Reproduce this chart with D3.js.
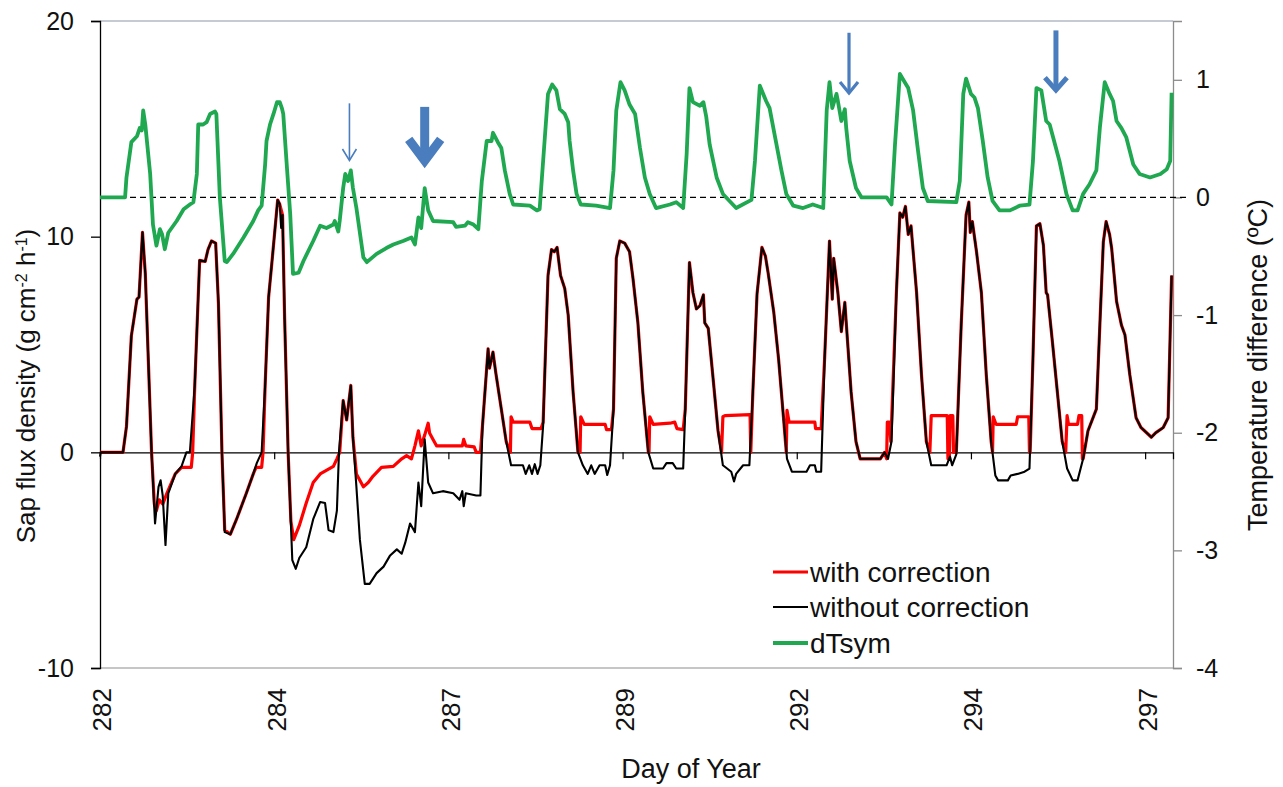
<!DOCTYPE html>
<html>
<head>
<meta charset="utf-8">
<script src="https://cdn.jsdelivr.net/npm/d3@7"></script>
<style>
  body { margin: 0; background: #fff; }
  svg { display: block; }
  text { font-family: "Liberation Sans", Arial, sans-serif; fill: #111; }
</style>
</head>
<body>
<svg id="chart" width="1283" height="787"></svg>
<script>
// Sap flux density, g cm-2 h-1, as [day of year, value]
const withCorrection = [
  [282.00,0],[282.33,0],[282.38,1.2],[282.45,5.4],[282.53,7.1],[282.56,7.2],[282.61,10.2],[282.65,8.3],[282.69,4.6],[282.74,0],
  [282.78,-2.4],[282.81,-2.7],[282.85,-2.2],[282.90,-2.4],[282.96,-1.9],[283.08,-1.0],[283.17,-0.7],[283.31,-0.7],[283.33,0],
  [283.36,3.1],[283.43,8.9],[283.51,8.85],[283.55,9.4],[283.60,9.8],[283.66,9.7],[283.70,6.9],[283.75,0],[283.79,-3.6],[283.87,-3.8],
  [283.96,-3.1],[284.10,-1.9],[284.20,-1.0],[284.24,-0.7],[284.32,-0.7],[284.34,0],
  [284.37,3.1],[284.42,7.2],[284.47,8.9],[284.51,10.3],[284.55,11.7],[284.58,11.5],[284.62,11.0],[284.65,6.2],[284.70,0],
  [284.74,-3.2],[284.78,-4.05],[284.86,-3.4],[284.96,-2.35],[285.06,-1.4],[285.16,-1.0],[285.35,-0.65],[285.40,-0.3],[285.44,0],
  [285.49,2.4],[285.54,1.5],[285.60,3.1],[285.63,0.7],[285.68,-1.0],[285.78,-1.6],[285.85,-1.4],[285.92,-1.1],[286.04,-0.7],
  [286.21,-0.65],[286.33,-0.3],[286.40,-0.15],[286.47,-0.3],[286.52,0.3],[286.57,1.0],[286.61,0.3],[286.66,0.8],[286.71,1.35],
  [286.73,0.9],[286.78,0.6],[286.83,0.3],[287.20,0.3],[287.22,0.6],[287.25,0.3],[287.37,0.25],[287.40,0],[287.46,0],
  [287.49,1.25],[287.57,4.8],[287.59,3.9],[287.64,4.65],[287.68,3.7],[287.76,2.0],[287.83,0.5],[287.89,0],[287.90,1.65],
  [287.93,1.4],[288.17,1.4],[288.20,1.1],[288.33,1.1],[288.36,1.4],
  [288.43,8.2],[288.48,9.4],[288.52,9.3],[288.56,9.5],[288.61,8.2],[288.67,7.6],[288.72,6.35],[288.79,2.8],[288.86,0],[288.89,0],
  [288.90,1.65],[288.95,1.3],[289.25,1.3],[289.27,1.05],[289.34,1.05],[289.37,2.0],
  [289.41,9.0],[289.46,9.8],[289.53,9.7],[289.60,9.3],[289.65,8.05],[289.72,6.0],[289.79,2.8],[289.87,0],[289.88,0],
  [289.89,1.65],[289.94,1.3],[290.18,1.35],[290.25,1.4],[290.28,1.1],[290.37,1.05],[290.40,2.0],
  [290.46,8.8],[290.51,7.4],[290.56,6.65],[290.61,6.8],[290.66,7.3],[290.68,6.0],[290.73,5.75],[290.80,3.4],[290.87,1.0],[290.92,0],
  [290.94,1.65],[290.97,1.7],[291.33,1.75],[291.34,0],
  [291.37,2.8],[291.43,7.35],[291.50,9.5],[291.55,9.1],[291.59,8.3],[291.67,6.5],[291.74,4.3],[291.81,1.6],[291.85,0],
  [291.86,1.95],[291.89,1.4],[292.26,1.4],[292.27,1.1],[292.35,1.1],
  [292.40,4.35],[292.47,9.8],[292.51,7.1],[292.53,9.0],[292.59,7.4],[292.64,5.6],[292.69,6.95],[292.73,5.1],[292.78,2.8],[292.85,0.5],
  [292.91,-0.3],[293.20,-0.3],[293.26,0],[293.29,-0.3],[293.30,1.4],[293.33,1.4],[293.35,0.5],
  [293.43,7.4],[293.48,11.1],[293.52,10.9],[293.56,11.4],[293.60,10.1],[293.64,10.5],[293.72,7.4],[293.79,3.6],[293.86,0.5],[293.91,0],
  [293.93,1.7],[294.16,1.7],[294.17,-0.3],[294.19,-0.3],[294.20,1.7],[294.24,1.7],[294.25,0],[294.29,0],
  [294.36,5.9],[294.43,11.0],[294.47,11.6],[294.49,10.2],[294.52,10.7],[294.58,9.3],[294.65,7.4],[294.72,3.6],[294.79,0.5],[294.81,0],
  [294.82,1.65],[294.86,1.3],[295.15,1.3],[295.17,1.65],[295.33,1.65],[295.34,0],[295.35,0],
  [295.39,4.35],[295.44,10.5],[295.49,10.6],[295.54,9.6],[295.58,7.4],[295.60,7.3],[295.67,5.1],[295.74,2.8],[295.81,0.5],[295.86,0],
  [295.88,1.7],[295.90,1.3],[296.03,1.3],[296.05,1.7],[296.09,1.7],[296.10,-0.3],[296.11,-0.3],
  [296.18,1.0],[296.30,2.0],[296.35,5.9],[296.40,9.75],[296.44,10.7],[296.49,10.1],[296.52,9.45],[296.59,7.0],[296.66,5.9],
  [296.71,5.45],[296.78,3.6],[296.87,1.6],[296.94,1.15],[297.04,0.85],[297.09,0.7],[297.15,0.9],[297.26,1.15],[297.33,1.6],[297.38,8.2]
];

const withoutCorrection = [
  [282.00,-0.2],[282.01,0],[282.33,0],[282.38,1.2],[282.45,5.4],[282.53,7.1],[282.56,7.2],[282.61,10.2],[282.65,8.3],[282.69,4.6],[282.74,0],
  [282.79,-3.3],[282.84,-1.6],[282.87,-1.3],[282.90,-2.0],[282.94,-4.3],[282.98,-1.9],[283.08,-1.0],[283.17,-0.65],[283.24,0],[283.29,0],
  [283.36,3.1],[283.43,8.9],[283.51,8.85],[283.55,9.4],[283.60,9.8],[283.66,9.7],[283.70,6.9],[283.75,0],[283.79,-3.7],[283.87,-3.8],
  [283.96,-3.1],[284.10,-1.9],[284.20,-1.0],[284.25,-0.5],[284.32,0],
  [284.37,3.1],[284.42,7.2],[284.47,8.9],[284.51,10.3],[284.55,11.7],[284.58,11.5],[284.60,10.4],[284.62,11.0],[284.65,6.2],[284.70,0],
  [284.76,-5.0],[284.81,-5.4],[284.86,-4.9],[284.96,-4.4],[285.06,-3.1],[285.16,-2.3],[285.23,-2.35],[285.28,-3.6],[285.35,-3.7],
  [285.40,-2.7],[285.43,0],[285.49,2.4],[285.54,1.5],[285.60,3.1],[285.63,0.7],[285.68,-1.6],[285.73,-4.05],[285.80,-6.1],[285.87,-6.1],
  [285.97,-5.6],[286.07,-5.3],[286.16,-4.8],[286.26,-4.5],[286.33,-4.7],[286.38,-4.2],[286.45,-3.3],[286.52,-3.7],[286.57,-1.4],
  [286.61,-2.5],[286.66,0.6],[286.71,-1.4],[286.78,-1.9],[286.92,-1.8],[287.07,-1.9],[287.16,-2.2],[287.20,-1.8],[287.22,-2.5],
  [287.25,-1.9],[287.40,-2.0],[287.46,-2.0],
  [287.49,1.25],[287.57,4.8],[287.59,3.9],[287.64,4.65],[287.68,3.7],[287.76,2.0],[287.83,0.5],[287.90,-0.6],[288.07,-0.6],
  [288.11,-1.0],[288.16,-0.6],[288.20,-1.0],[288.24,-0.55],[288.28,-1.0],[288.32,-0.6],[288.36,1.25],
  [288.43,8.2],[288.48,9.4],[288.52,9.3],[288.56,9.5],[288.61,8.2],[288.67,7.6],[288.72,6.35],[288.79,2.8],[288.86,0],
  [288.93,-0.6],[289.00,-1.0],[289.05,-0.6],[289.10,-1.0],[289.17,-0.6],[289.25,-0.6],[289.28,-1.05],[289.32,-0.6],[289.37,2.0],
  [289.41,9.0],[289.46,9.8],[289.53,9.7],[289.60,9.3],[289.65,8.05],[289.72,6.0],[289.79,2.8],[289.87,0],
  [289.94,-0.75],[290.08,-0.75],[290.13,-0.5],[290.22,-0.5],[290.27,-0.75],[290.37,-0.75],[290.40,2.0],
  [290.46,8.8],[290.51,7.4],[290.56,6.65],[290.61,6.8],[290.66,7.3],[290.68,6.0],[290.73,5.75],[290.80,3.4],[290.87,1.0],
  [290.94,-0.6],[291.06,-0.9],[291.10,-1.35],[291.13,-1.0],[291.23,-0.6],[291.32,-0.6],
  [291.37,2.8],[291.43,7.35],[291.50,9.5],[291.55,9.1],[291.59,8.3],[291.67,6.5],[291.74,4.3],[291.81,1.6],[291.86,-0.3],
  [291.93,-0.9],[292.14,-0.9],[292.19,-0.6],[292.26,-0.6],[292.28,-0.9],[292.35,-0.9],
  [292.40,4.35],[292.47,9.8],[292.51,7.1],[292.53,9.0],[292.59,7.4],[292.64,5.6],[292.69,6.95],[292.73,5.1],[292.78,2.8],[292.85,0.5],
  [292.91,-0.3],[293.20,-0.3],[293.26,0],[293.31,-0.3],[293.36,0.5],
  [293.43,7.4],[293.48,11.1],[293.52,10.9],[293.56,11.4],[293.60,10.1],[293.64,10.5],[293.72,7.4],[293.79,3.6],[293.86,0.5],
  [293.93,-0.6],[294.15,-0.6],[294.20,-0.2],[294.23,-0.6],[294.29,-0.1],
  [294.36,5.9],[294.43,11.0],[294.47,11.6],[294.49,10.2],[294.52,10.7],[294.58,9.3],[294.65,7.4],[294.72,3.6],[294.79,0.5],
  [294.85,-1.07],[294.89,-1.3],[295.03,-1.3],[295.07,-1.07],[295.17,-1.0],[295.27,-0.9],[295.34,-0.75],
  [295.39,4.35],[295.44,10.5],[295.49,10.6],[295.54,9.6],[295.58,7.4],[295.60,7.3],[295.67,5.1],[295.74,2.8],[295.81,0.5],
  [295.88,-0.75],[295.96,-1.3],[296.03,-1.3],[296.11,-0.3],
  [296.18,1.0],[296.30,2.0],[296.35,5.9],[296.40,9.75],[296.44,10.7],[296.49,10.1],[296.52,9.45],[296.59,7.0],[296.66,5.9],
  [296.71,5.45],[296.78,3.6],[296.87,1.6],[296.94,1.15],[297.04,0.85],[297.09,0.7],[297.15,0.9],[297.26,1.15],[297.33,1.6],[297.38,8.2]
];

// Symmetric temperature difference dTsym, degrees C, as [day of year, value]
const dTsym = [
  [282.00,0.00],[282.36,0.00],[282.38,0.17],[282.45,0.47],[282.53,0.52],[282.57,0.59],[282.60,0.57],[282.62,0.74],[282.65,0.62],
  [282.72,0.20],[282.76,-0.23],[282.81,-0.41],[282.86,-0.27],[282.89,-0.31],[282.93,-0.44],[282.98,-0.30],[283.10,-0.20],
  [283.20,-0.10],[283.29,-0.06],[283.34,-0.04],[283.39,0.20],[283.41,0.62],[283.48,0.62],[283.53,0.64],[283.58,0.71],[283.65,0.73],
  [283.67,0.71],[283.72,0.00],[283.79,-0.54],[283.82,-0.55],[283.91,-0.48],[284.06,-0.34],[284.20,-0.20],[284.27,-0.11],[284.32,-0.07],
  [284.37,0.28],[284.39,0.48],[284.44,0.62],[284.49,0.71],[284.54,0.81],[284.58,0.81],[284.61,0.76],[284.63,0.71],[284.68,0.28],
  [284.73,-0.14],[284.77,-0.65],[284.85,-0.64],[284.92,-0.54],[285.06,-0.37],[285.16,-0.24],[285.25,-0.26],[285.35,-0.23],
  [285.37,-0.20],[285.42,-0.29],[285.44,-0.20],[285.49,0.08],[285.52,0.20],[285.56,0.14],[285.60,0.23],[285.63,0.08],[285.68,-0.09],
  [285.78,-0.51],[285.83,-0.55],[285.97,-0.48],[286.11,-0.43],[286.21,-0.40],[286.35,-0.37],[286.47,-0.34],[286.52,-0.40],
  [286.57,-0.17],[286.61,-0.26],[286.66,0.08],[286.71,-0.11],[286.78,-0.20],[287.07,-0.21],[287.11,-0.25],[287.24,-0.24],
  [287.28,-0.21],[287.36,-0.23],[287.43,-0.27],[287.48,0.14],[287.55,0.48],[287.62,0.48],[287.64,0.55],[287.71,0.47],[287.76,0.42],
  [287.81,0.23],[287.88,0.03],[287.93,-0.06],[288.17,-0.07],[288.27,-0.11],[288.31,-0.10],[288.36,0.31],[288.43,0.88],[288.49,0.96],
  [288.55,0.91],[288.60,0.75],[288.67,0.71],[288.72,0.64],[288.74,0.48],[288.79,0.23],[288.84,0.03],[288.90,-0.06],[289.12,-0.07],
  [289.32,-0.09],[289.37,0.23],[289.41,0.74],[289.47,0.98],[289.53,0.91],[289.60,0.79],[289.68,0.71],[289.75,0.42],[289.82,0.17],
  [289.89,0.03],[289.98,-0.09],[290.18,-0.06],[290.27,-0.04],[290.37,-0.09],[290.42,0.37],[290.46,0.93],[290.51,0.81],[290.61,0.78],
  [290.66,0.81],[290.70,0.69],[290.75,0.45],[290.85,0.17],[290.94,0.03],[291.13,-0.09],[291.35,-0.02],[291.40,0.31],[291.47,0.95],
  [291.56,0.82],[291.61,0.76],[291.68,0.54],[291.78,0.23],[291.85,0.03],[291.95,-0.07],[292.09,-0.09],[292.23,-0.06],[292.38,-0.09],
  [292.43,0.74],[292.47,0.98],[292.51,0.76],[292.57,0.88],[292.59,0.82],[292.64,0.65],[292.69,0.75],[292.71,0.59],[292.76,0.31],
  [292.85,0.08],[292.93,0.00],[293.29,0.00],[293.36,-0.06],[293.41,0.45],[293.48,1.05],[293.55,0.98],[293.60,0.93],[293.67,0.74],
  [293.74,0.40],[293.81,0.08],[293.88,-0.03],[294.29,-0.04],[294.34,0.14],[294.39,0.88],[294.43,1.01],[294.50,0.88],[294.55,0.85],
  [294.60,0.76],[294.67,0.48],[294.74,0.17],[294.81,-0.03],[294.91,-0.11],[295.06,-0.11],[295.20,-0.07],[295.34,-0.06],[295.39,0.31],
  [295.44,0.93],[295.51,0.91],[295.58,0.65],[295.63,0.62],[295.68,0.51],[295.77,0.31],[295.87,0.03],[295.96,-0.11],[296.03,-0.11],
  [296.11,0.03],[296.20,0.11],[296.30,0.23],[296.35,0.59],[296.42,0.98],[296.49,0.88],[296.54,0.82],[296.59,0.65],[296.66,0.59],
  [296.73,0.51],[296.83,0.28],[296.92,0.20],[297.07,0.17],[297.22,0.20],[297.31,0.24],[297.36,0.31],[297.38,0.89]
];

// Axis ticks and labels
const xTickDays = [282, 284.5, 287, 289.5, 292, 294.5, 297];
const xTickLabels = ["282", "284", "287", "289", "292", "294", "297"];
const leftTicks = [-10, 0, 10, 20];
const rightTicks = [-4, -3, -2, -1, 0, 1];
const seriesNames = ["with correction", "without correction", "dTsym"];

// Arrow annotations pointing at dTsym events: [day, tip dT, tail dT]
const arrowDays  = [285.58, 286.66, 292.75, 295.72];
const arrowTips  = [0.31, 0.29, 0.88, 0.90];
const arrowTails = [0.80, 0.77, 1.40, 1.42];

const svg = d3.select("#chart");
const plot = { left: 100, right: 1173, top: 21, bottom: 668 };

const x = d3.scaleLinear().domain([282, 297.4]).range([plot.left, plot.right]);
const yL = d3.scaleLinear().domain([-10, 20]).range([plot.bottom, plot.top]);
const yR = d3.scaleLinear().domain([-4, 1.5]).range([plot.bottom, plot.top]);

const colors = { red: "#ff0000", black: "#000000", green: "#1fa850", arrow: "#4a7dbd" };
const plainNumber = d => String(d);   // ASCII hyphen for negatives

// Plot frame: top and bottom borders
svg.append("line").attr("x1", plot.left).attr("x2", plot.right).attr("y1", plot.top).attr("y2", plot.top)
  .attr("stroke", "#8e96a6").attr("stroke-width", 1.2);
svg.append("line").attr("x1", plot.left).attr("x2", plot.right).attr("y1", plot.bottom).attr("y2", plot.bottom)
  .attr("stroke", "#8e8e8e").attr("stroke-width", 1.2);

// Left axis
const leftAxis = d3.axisLeft(yL).tickValues(leftTicks).tickSize(9).tickPadding(17).tickFormat(plainNumber);
const gL = svg.append("g").attr("transform", `translate(${plot.left},0)`).call(leftAxis);
gL.select(".domain").attr("stroke", "#000").attr("stroke-width", 1.3);
gL.selectAll(".tick line").attr("stroke", "#000").attr("stroke-width", 1.3);
gL.selectAll(".tick text").attr("font-size", 25).attr("fill", "#111")
  .style("font-family", '"Liberation Sans", Arial, sans-serif');

// Right axis
const rightAxis = d3.axisRight(yR).tickValues(rightTicks).tickSize(9).tickPadding(14).tickFormat(plainNumber);
const gR = svg.append("g").attr("transform", `translate(${plot.right},0)`).call(rightAxis);
gR.select(".domain").attr("stroke", "#8c8c8c").attr("stroke-width", 1.3);
gR.selectAll(".tick line").attr("stroke", "#8c8c8c").attr("stroke-width", 1.3);
gR.selectAll(".tick text").attr("font-size", 25).attr("fill", "#111")
  .style("font-family", '"Liberation Sans", Arial, sans-serif');

// Category axis along zero sap flux
const zeroAxis = d3.axisBottom(x).tickValues(xTickDays.slice(1)).tickSize(7).tickFormat("");
const gX = svg.append("g").attr("transform", `translate(0,${yL(0)})`).call(zeroAxis);
gX.select(".domain").attr("stroke", "#000").attr("stroke-width", 1.2);
gX.selectAll(".tick line").attr("stroke", "#000").attr("stroke-width", 1.2);

// Day labels below the plot, rotated
svg.append("g").selectAll("text").data(xTickDays).join("text")
  .attr("transform", d => `translate(${x(d) + 2},${plot.bottom + 20}) rotate(-90)`)
  .attr("text-anchor", "end").attr("dy", "0.36em").attr("font-size", 26)
  .text((d, i) => xTickLabels[i]);

// dTsym zero reference (dashed)
svg.append("line").attr("x1", plot.left).attr("x2", plot.right + 14).attr("y1", yR(0)).attr("y2", yR(0))
  .attr("stroke", "#000").attr("stroke-width", 1.3).attr("stroke-dasharray", "6,4");

// Series
const lineL = d3.line().x(d => x(d[0])).y(d => yL(d[1]));
const lineR = d3.line().x(d => x(d[0])).y(d => yR(d[1]));

svg.append("path").datum(withCorrection).attr("d", lineL)
  .attr("fill", "none").attr("stroke", colors.red).attr("stroke-width", 3.2).attr("stroke-linejoin", "round");
svg.append("path").datum(withoutCorrection).attr("d", lineL)
  .attr("fill", "none").attr("stroke", colors.black).attr("stroke-width", 2.1).attr("stroke-linejoin", "round");
svg.append("path").datum(dTsym).attr("d", lineR)
  .attr("fill", "none").attr("stroke", colors.green).attr("stroke-width", 3.8).attr("stroke-linejoin", "round");

// Arrows
const arrowStyle = [
  { w: 1.6, hw: 7, hl: 12 },
  { w: 9, hw: 16, hl: 24 },
  { w: 3.2, hw: 9, hl: 12 },
  { w: 5, hw: 11, hl: 14 }
];
const gA = svg.append("g");
arrowDays.forEach((d, i) => {
  const ax = x(d), tip = yR(arrowTips[i]), tail = yR(arrowTails[i]);
  const s = arrowStyle[i];
  gA.append("line").attr("x1", ax).attr("x2", ax).attr("y1", tail).attr("y2", tip - s.w * 0.6)
    .attr("stroke", colors.arrow).attr("stroke-width", s.w);
  gA.append("path")
    .attr("d", `M${ax - s.hw},${tip - s.hl} L${ax},${tip - s.w * 0.3} L${ax + s.hw},${tip - s.hl}`)
    .attr("fill", "none").attr("stroke", colors.arrow).attr("stroke-width", s.w)
    .attr("stroke-linejoin", "miter").attr("stroke-linecap", "butt");
});

// Axis titles
const yTitle = svg.append("text")
  .attr("transform", `translate(26,386) rotate(-90)`).attr("text-anchor", "middle")
  .attr("dy", "0.36em").attr("font-size", 26);
yTitle.append("tspan").text("Sap flux  density (g cm");
yTitle.append("tspan").attr("font-size", 16).attr("baseline-shift", "super").text("-2");
yTitle.append("tspan").text(" h");
yTitle.append("tspan").attr("font-size", 16).attr("baseline-shift", "super").text("-1");
yTitle.append("tspan").text(")");

svg.append("text")
  .attr("transform", `translate(1257,365) rotate(-90)`).attr("text-anchor", "middle")
  .attr("dy", "0.36em").attr("font-size", 27)
  .text("Temperature difference (ºC)");

svg.append("text").attr("x", 691).attr("y", 778).attr("text-anchor", "middle")
  .attr("font-size", 27).text("Day of Year");

// Legend
const legendColors = [colors.red, colors.black, colors.green];
const legendWidths = [3.2, 2.1, 3.8];
const legendY = [572, 607, 643];
const gLeg = svg.append("g");
seriesNames.forEach((name, i) => {
  gLeg.append("line").attr("x1", 773).attr("x2", 808).attr("y1", legendY[i]).attr("y2", legendY[i])
    .attr("stroke", legendColors[i]).attr("stroke-width", legendWidths[i]);
  gLeg.append("text").attr("x", 810).attr("y", legendY[i]).attr("dy", "0.35em")
    .attr("font-size", 28).text(name);
});
</script>
</body>
</html>
